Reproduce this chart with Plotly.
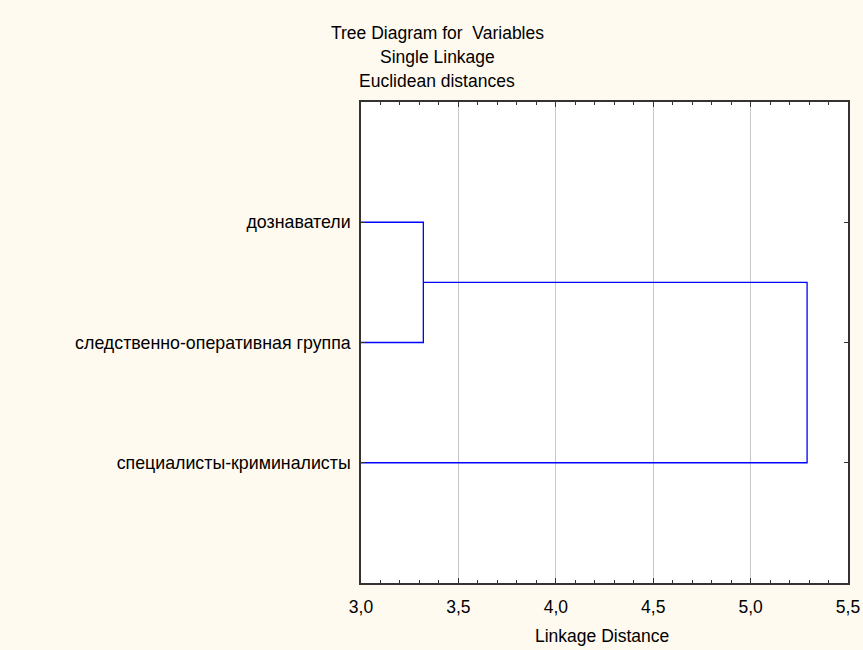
import plotly.graph_objects as go

labels = ["дознаватели", "следственно-оперативная группа", "специалисты-криминалисты"]
leaf_pos = [1, 2, 3]
merge_heights = [3.32, 5.29]
base = 3.0
title_lines = ["Tree Diagram for  Variables", "Single Linkage", "Euclidean distances"]

# build dendrogram segments from merge data
h1, h2 = merge_heights
mid1 = (leaf_pos[0] + leaf_pos[1]) / 2
xs = [base, h1, h1, base, None, h1, h2, h2, base]
ys = [leaf_pos[0], leaf_pos[0], leaf_pos[1], leaf_pos[1], None, mid1, mid1, leaf_pos[2], leaf_pos[2]]

fig = go.Figure()
fig.add_trace(go.Scatter(x=xs, y=ys, mode="lines", line=dict(color="#0000FF", width=1.3),
                         hoverinfo="skip", showlegend=False, connectgaps=False))

bg = "#FFFAF0"
font = "Liberation Sans, Arial, sans-serif"
FS = 17.5
T, B, L, R = 102, 583, 361, 848
H = B - T
W = R - L

annotations = []
for i, (line, ypix) in enumerate(zip(title_lines, [33, 57, 81])):
    annotations.append(dict(text=line, xref="paper", yref="paper", x=(437 - L) / W,
                            y=(B - ypix) / H, xanchor="center", yanchor="middle",
                            showarrow=False, font=dict(size=FS)))
annotations.append(dict(text="Linkage Distance", xref="paper", yref="paper", x=(602 - L) / W,
                        y=(B - 636) / H, xanchor="center", yanchor="middle", showarrow=False,
                        font=dict(size=FS)))

fig.update_layout(
    width=863, height=650,
    paper_bgcolor=bg, plot_bgcolor="white",
    margin=dict(l=L, r=863 - R, t=T, b=650 - B),
    separators=", ",
    font=dict(family=font, size=FS, color="black"),
    xaxis=dict(range=[3.0, 5.5], dtick=0.5, tick0=3.0, tickformat=".1f", automargin=False,
               ticks="inside", ticklen=5, tickcolor="#333", showline=True, linecolor="#333",
               linewidth=1.5, mirror="allticks", showgrid=True, gridcolor="#C8C8C8", gridwidth=1,
               zeroline=False, ticklabelstandoff=7,
               minor=dict(dtick=0.1, ticks="inside", ticklen=3, tickcolor="#333", showgrid=False)),
    yaxis=dict(range=[4, 0], tickvals=leaf_pos, ticktext=labels, ticks="inside", ticklen=4,
               tickcolor="#333", showline=True, linecolor="#333", linewidth=1.5, mirror="allticks",
               showgrid=False, zeroline=False, ticklabelstandoff=5, automargin=False,
               tickfont=dict(size=17.8)),
    annotations=annotations,
)
fig.write_html("out.html", config={"displayModeBar": False},
               post_script="document.body.style.margin='0';")
